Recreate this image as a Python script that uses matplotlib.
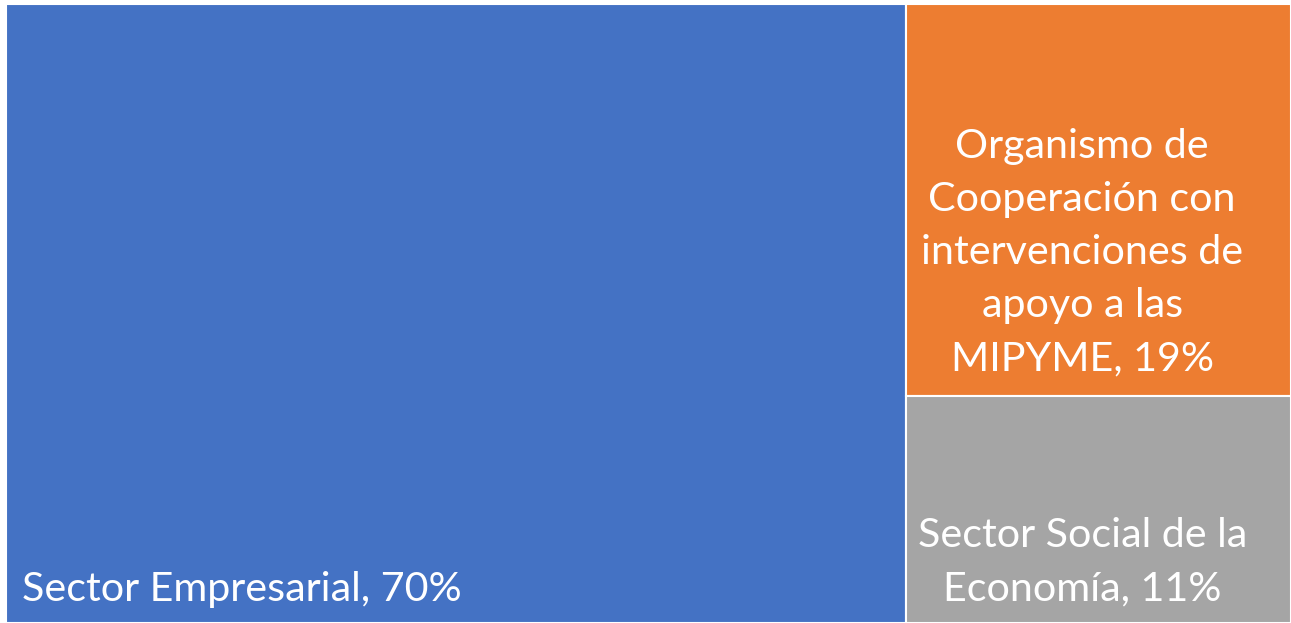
import matplotlib.pyplot as plt
from matplotlib.patches import Rectangle

# treemap data (share in %)
labels = ["Sector Empresarial, 70%",
          "Organismo de\nCooperación con\nintervenciones de\napoyo a las\nMIPYME, 19%",
          "Sector Social de la\nEconomía, 11%"]
values = [70, 19, 11]
colors = ["#4472C4", "#ED7D31", "#A5A5A5"]

plt.rcParams['font.family'] = ['Lato', 'DejaVu Sans']

fig = plt.figure(figsize=(12.91, 6.23), dpi=100)
ax = fig.add_axes([6 / 1291, 0, 1 - 6 / 1291, 619 / 623])
total = sum(values)
ax.set_xlim(0, total)
ax.set_ylim(0, 1)
ax.axis('off')

# first item takes the full height, the rest are stacked in the remaining column
rest = sum(values[1:])
rects = [(0, 0, values[0], 1)]
y = 1
for v in values[1:]:
    h = v / rest
    y -= h
    rects.append((values[0], y, rest, h))

for (x0, y0, w, h), c in zip(rects, colors):
    ax.add_patch(Rectangle((x0, y0), w, h, facecolor=c, edgecolor='white', linewidth=1.5))

fs = 29.7
# big block: label bottom-left
x0, y0, w, h = rects[0]
ax.annotate(labels[0], (x0, y0), xytext=(16, 22), textcoords='offset pixels',
            ha='left', va='baseline', color='white', fontsize=fs)

# right column labels, centred a bit left of the block centre
for (x0, y0, w, h), lab, off in zip(rects[1:], labels[1:], [26, 23]):
    ax.annotate(lab, (x0 + w / 2, y0), xytext=(-16, off), textcoords='offset pixels',
                ha='center', va='baseline', ma='center', color='white',
                fontsize=fs, linespacing=1.53)

fig.savefig('out.png', dpi=100)
